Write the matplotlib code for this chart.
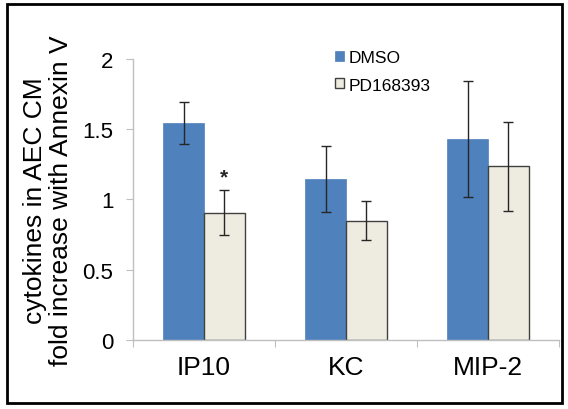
import matplotlib.pyplot as plt
import numpy as np
from matplotlib.patches import Rectangle

plt.rcParams['font.family'] = ['Liberation Sans', 'DejaVu Sans']

# data
categories = ['IP10', 'KC', 'MIP-2']
dmso = [1.545, 1.145, 1.43]
dmso_err = [0.147, 0.235, 0.415]
pd = [0.905, 0.85, 1.235]
pd_err = [0.16, 0.137, 0.317]
series_names = ['DMSO', 'PD168393']

fig = plt.figure(figsize=(5.68, 4.10), dpi=100)
ax = fig.add_axes([0.234, 0.168, 0.75, 0.686])

x = np.arange(len(categories))
w = 0.286
ax.bar(x - w / 2, dmso, w, color='#4F81BD', edgecolor='#4F81BD', linewidth=0.5,
       label=series_names[0], zorder=2)
ax.bar(x + w / 2, pd, w, color='#EEECE1', edgecolor='#404040', linewidth=1.0,
       label=series_names[1], zorder=2)
ax.errorbar(x - w / 2, dmso, yerr=dmso_err, fmt='none', ecolor='#262626',
            elinewidth=1.0, capsize=3.5, capthick=1.0, zorder=3)
ax.errorbar(x + w / 2, pd, yerr=pd_err, fmt='none', ecolor='#262626',
            elinewidth=1.0, capsize=3.5, capthick=1.0, zorder=3)

# significance mark
ax.text(x[0] + w / 2, pd[0] + pd_err[0] + 0.03, '*', ha='center', va='bottom',
        fontsize=15, fontweight='bold', color='#262626')

ax.set_xlim(-0.5, 2.5)
ax.set_ylim(0, 2)
ax.set_yticks([0, 0.5, 1, 1.5, 2])
ax.set_yticklabels(['0', '0.5', '1', '1.5', '2'])
ax.tick_params(axis='y', labelsize=16, length=5, color='#BFBFBF', pad=9)

# x ticks at category boundaries, labels centred
ax.set_xticks([-0.5, 0.5, 1.5, 2.5])
ax.set_xticklabels([])
ax.set_xticks(x, minor=True)
ax.set_xticklabels(categories, minor=True)
ax.tick_params(axis='x', which='major', length=5, color='#BFBFBF')
ax.tick_params(axis='x', which='minor', length=0, labelsize=19, pad=11)

for side in ['top', 'right']:
    ax.spines[side].set_visible(False)
for side in ['left', 'bottom']:
    ax.spines[side].set_color('#BFBFBF')
    ax.spines[side].set_linewidth(1.0)

ax.set_ylabel('cytokines in AEC CM\nfold increase with Annexin V', fontsize=19,
              linespacing=1.1, va='center', ha='center')
ax.yaxis.set_label_coords(-0.2, 0.5)

leg = ax.legend(loc='upper left', bbox_to_anchor=(0.474, 1.03), frameon=False,
                fontsize=12.5, handlelength=0.5, handleheight=0.5,
                handletextpad=0.3, labelspacing=0.7, borderaxespad=0,
                borderpad=0)

# outer frame
fig.patches.append(Rectangle((0.012, 0.014), 0.978, 0.973, transform=fig.transFigure,
                             fill=False, edgecolor='black', linewidth=2))

fig.savefig('out.png', dpi=100)
